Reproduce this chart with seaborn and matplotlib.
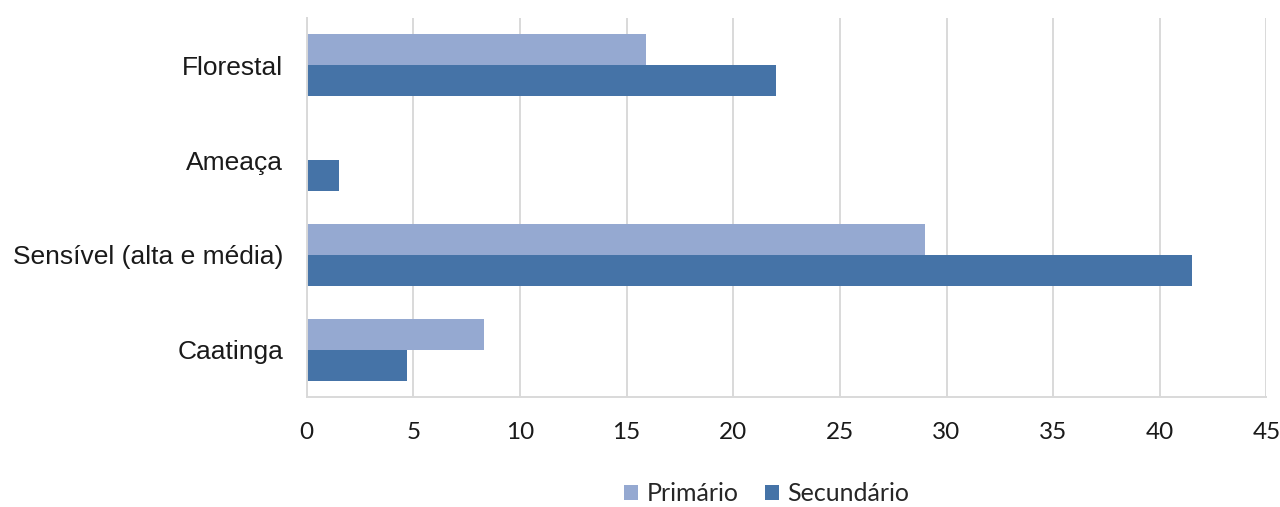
import matplotlib
matplotlib.use("Agg")
import matplotlib.pyplot as plt
import seaborn as sns
import pandas as pd
from matplotlib.patches import Patch

categories = ["Florestal", "Ameaça", "Sensível (alta e média)", "Caatinga"]
primario = [15.9, 0.0, 29.0, 8.3]
secundario = [22.0, 1.5, 41.5, 4.7]
series = ["Primário", "Secundário"]
xticks = [0, 5, 10, 15, 20, 25, 30, 35, 40, 45]

colors = {"Primário": "#95A9D1", "Secundário": "#4573A7"}

df = pd.DataFrame({
    "categoria": categories * 2,
    "valor": primario + secundario,
    "serie": [series[0]] * len(categories) + [series[1]] * len(categories),
})

sns.set_theme(style="white")
plt.rcParams["font.family"] = ["Liberation Sans", "DejaVu Sans"]

fig = plt.figure(figsize=(12.8, 5.07), dpi=100)
ax = fig.add_axes([0.2396, 0.217, 0.9894 - 0.2396, 0.9645 - 0.217])

sns.barplot(data=df, y="categoria", x="valor", hue="serie", order=categories,
            hue_order=series, palette=colors, orient="h", width=0.655,
            saturation=1, ax=ax, legend=False, errorbar=None, linewidth=0)

ax.set_xlim(0, 45)
ax.set_xticks(xticks)
ax.set_xticklabels([str(t) for t in xticks], fontfamily="Lato", fontsize=17.5, color="#1a1a1a")
ax.set_xlabel("")
ax.set_ylabel("")
ax.tick_params(axis="y", labelsize=19, pad=17, length=0, labelcolor="#1a1a1a")
ax.tick_params(axis="x", pad=18, length=0)

ax.xaxis.grid(True, color="#D9D9D9", linewidth=1.4)
ax.yaxis.grid(False)
ax.set_axisbelow(True)
for s in ["top", "right"]:
    ax.spines[s].set_visible(False)
for s in ["left", "bottom"]:
    ax.spines[s].set_color("#D9D9D9")
    ax.spines[s].set_linewidth(1.4)

handles = [Patch(facecolor=colors[s], edgecolor="none", label=s) for s in series]
fig.legend(handles=handles, loc="center", bbox_to_anchor=(0.599, 0.026), ncol=2,
           frameon=False, prop={"family": "Lato", "size": 18},
           handlelength=0.55, handleheight=0.55, handletextpad=0.35, columnspacing=1.05,
           borderpad=0.2, bbox_transform=fig.transFigure)

fig.savefig("out.png", dpi=100)
